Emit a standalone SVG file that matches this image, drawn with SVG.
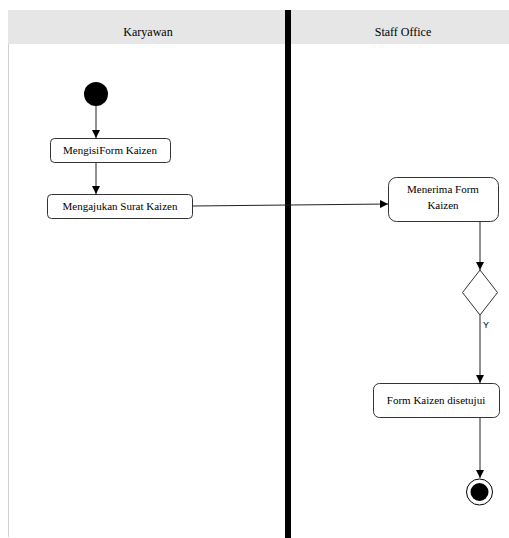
<svg xmlns="http://www.w3.org/2000/svg" width="509" height="538" viewBox="0 0 509 538">
  <defs>
    <marker id="arrow" viewBox="0 0 8 8" refX="8" refY="4" markerWidth="8" markerHeight="8" markerUnits="userSpaceOnUse" orient="auto">
      <path d="M0,0 L8,4 L0,8 Z" fill="#000"/>
    </marker>
  </defs>
  <style>
    .lane-title { font-size: 12px; fill: #000; text-anchor: middle; }
    .label { font-size: 11px; fill: #000; text-anchor: middle; }
    .guard { font-size: 9px; fill: #000; }
    .action { fill: #fff; stroke: #333; stroke-width: 1; }
    .edge { fill: none; stroke: #222; stroke-width: 1; marker-end: url(#arrow); }
  </style>
  <rect width="509" height="538" fill="#fff"/>

  <!-- swimlanes -->
  <g id="lanes" font-family="'Liberation Serif', 'Times New Roman', serif">
    <rect x="8" y="10" width="501" height="34" fill="#e6e6e6"/>
    <line x1="8.5" y1="44" x2="8.5" y2="537" stroke="#d0d0d0" stroke-width="1"/>
    <text class="lane-title" x="148" y="36">Karyawan</text>
    <text class="lane-title" x="403" y="36">Staff Office</text>
    <rect x="285" y="10" width="6" height="528" fill="#000"/>
  </g>

  <!-- connectors -->
  <g id="connectors">
    <line class="edge" x1="96" y1="106" x2="96" y2="138"/>
    <line class="edge" x1="96" y1="162" x2="96" y2="194"/>
    <path class="edge" d="M192,206 L388,204"/>
    <line class="edge" x1="480" y1="221" x2="480" y2="270"/>
    <line class="edge" x1="480" y1="315" x2="480" y2="383"/>
    <text class="guard" font-family="'Liberation Sans', Arial, sans-serif" x="483" y="328">Y</text>
    <line class="edge" x1="480" y1="417" x2="480" y2="478"/>
  </g>

  <g id="start">
    <circle cx="96" cy="94" r="12" fill="#000"/>
  </g>

  <g id="isi-form" font-family="'Liberation Serif', 'Times New Roman', serif">
    <rect class="action" x="50.5" y="138.5" width="120" height="24" rx="4"/>
    <text class="label" x="110" y="154">MengisiForm Kaizen</text>
  </g>

  <g id="ajukan-surat" font-family="'Liberation Serif', 'Times New Roman', serif">
    <rect class="action" x="47.5" y="194.5" width="145" height="24" rx="4"/>
    <text class="label" x="120" y="210">Mengajukan Surat Kaizen</text>
  </g>

  <g id="terima-form" font-family="'Liberation Serif', 'Times New Roman', serif">
    <rect class="action" x="388.5" y="177.5" width="110" height="44" rx="8"/>
    <text class="label" x="443" y="193">Menerima Form</text>
    <text class="label" x="443" y="209">Kaizen</text>
  </g>

  <g id="decision">
    <polygon points="480,270 497.5,292.5 480,315 462.5,292.5" fill="#fff" stroke="#333" stroke-width="1"/>
  </g>

  <g id="disetujui" font-family="'Liberation Serif', 'Times New Roman', serif">
    <rect class="action" x="373.5" y="383.5" width="126" height="34" rx="6"/>
    <text class="label" x="436" y="404">Form Kaizen disetujui</text>
  </g>

  <g id="end">
    <circle cx="479.5" cy="492" r="13" fill="#fff" stroke="#000" stroke-width="1"/>
    <circle cx="479.5" cy="492" r="9" fill="#000"/>
  </g>
</svg>
